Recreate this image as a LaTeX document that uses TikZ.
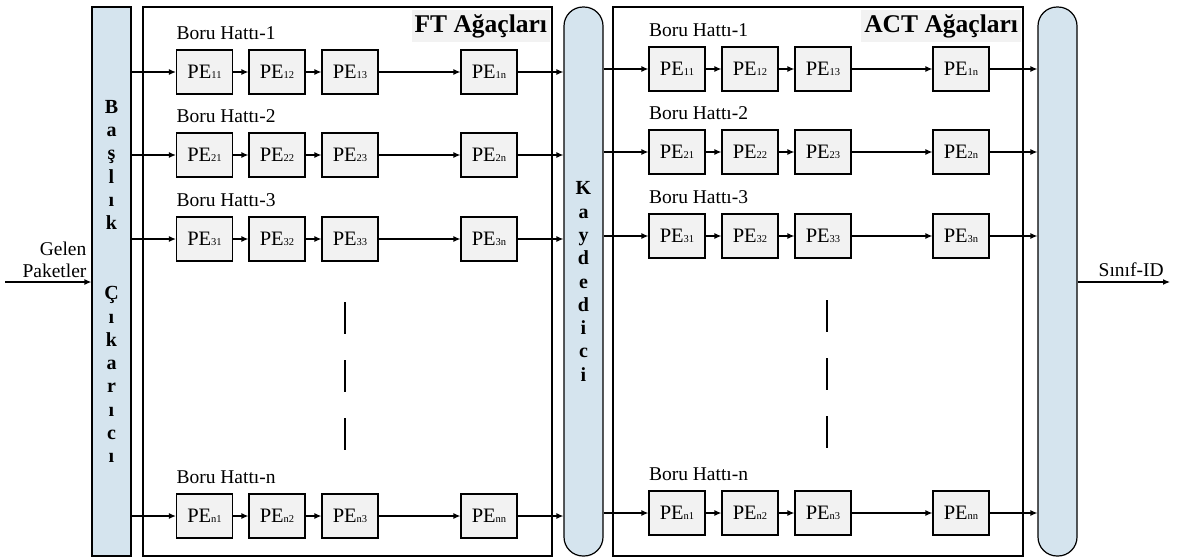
\documentclass[tikz,border=0pt]{standalone}
\usepackage{fontspec}
\setmainfont{Liberation Serif}
\usetikzlibrary{arrows.meta,positioning}
\definecolor{barblue}{HTML}{D5E4EE}
\definecolor{pegray}{HTML}{F2F2F2}
\newcommand{\pesub}[1]{PE{\fontsize{10.5}{10.5}\selectfont\raisebox{-0.5pt}{#1}}}

\begin{document}
\begin{tikzpicture}[x=1pt,y=-1pt,>={Latex[length=7pt,width=6pt]},line width=1.2pt,
  pebox/.style={draw,fill=pegray,minimum width=56pt,minimum height=44pt,inner sep=0pt,font=\fontsize{20.5}{20.5}\selectfont},
  bar/.style={draw,fill=barblue,minimum width=39pt,minimum height=549pt,inner sep=0pt,align=center,font=\bfseries\fontsize{20}{23.3}\selectfont},
  frame/.style={draw,minimum height=549pt,inner sep=0pt},
  ttl/.style={fill=pegray,minimum height=32pt,inner xsep=3pt,font=\bfseries\fontsize{25.5}{25.5}\selectfont},
  lbl/.style={font=\fontsize{19.5}{19.5}\selectfont,inner sep=0pt}]
\useasboundingbox (0,0) rectangle (1179,558);
% bars and frames
\node[bar] (bas) at (111.5,281.5) {B\\a\\ş\\l\\ı\\k\\[46.6pt]Ç\\ı\\k\\a\\r\\ı\\c\\ı};
\node[frame,minimum width=409pt] (ft) at (347.5,281.5) {};
\node[bar,rounded corners=19pt] (kay) at (583.5,281.5) {K\\a\\y\\d\\e\\d\\i\\c\\i};
\node[frame,minimum width=410pt] (act) at (818,281.5) {};
\node[bar,rounded corners=19pt] (out) at (1057.5,281.5) {};
\node[ttl,anchor=north east] (ftt) at ([xshift=-2pt,yshift=-3pt]ft.north east) {FT Ağaçları};
\node[ttl,anchor=north east] (actt) at ([xshift=-2pt,yshift=-3pt]act.north east) {ACT Ağaçları};
% pipelines
\foreach \r/\y/\ya in {1/72/69,2/155/152,3/239/236,n/516/513}{
  \node[pebox] (p\r1) at (204.5,\y) {\pesub{\r1}};
  \node[pebox] (p\r2) at (277,\y) {\pesub{\r2}};
  \node[pebox] (p\r3) at (350,\y) {\pesub{\r3}};
  \node[pebox] (p\r n) at (489,\y) {\pesub{\r n}};
  \node[lbl,anchor=base west] (l\r) at ([yshift=10pt]p\r1.north west) {Boru Hattı-\r};
  \draw[->] (bas.east |- p\r1) -- (p\r1);
  \draw[->] (p\r1) -- (p\r2);
  \draw[->] (p\r2) -- (p\r3);
  \draw[->] (p\r3) -- (p\r n);
  \draw[->] (p\r n) -- (kay.west |- p\r n);
  \node[pebox] (a\r1) at (677,\ya) {\pesub{\r1}};
  \node[pebox] (a\r2) at (750,\ya) {\pesub{\r2}};
  \node[pebox] (a\r3) at (823,\ya) {\pesub{\r3}};
  \node[pebox] (a\r n) at (961,\ya) {\pesub{\r n}};
  \node[lbl,anchor=base west] (m\r) at ([yshift=10pt]a\r1.north west) {Boru Hattı-\r};
  \draw[->] (kay.east |- a\r1) -- (a\r1);
  \draw[->] (a\r1) -- (a\r2);
  \draw[->] (a\r2) -- (a\r3);
  \draw[->] (a\r3) -- (a\r n);
  \draw[->] (a\r n) -- (out.west |- a\r n);
}
% dots between rows
\draw[dash pattern=on 32pt off 26pt] (345,302) -- (345,452);
\draw[dash pattern=on 32pt off 26pt] (827,300) -- (827,450);
% input and output
\coordinate (gin) at (5,282);
\draw[->] (gin) -- (bas.west |- gin);
\node[lbl,align=right,anchor=south east,font=\fontsize{19.5}{22}\selectfont] (gel) at (87,278) {Gelen\\Paketler};
\coordinate (sid) at (1170,282);
\draw[->] (out.east |- sid) -- (sid) node[lbl,pos=0.58,above=5pt] (sidl) {Sınıf-ID};
\end{tikzpicture}
\end{document}
